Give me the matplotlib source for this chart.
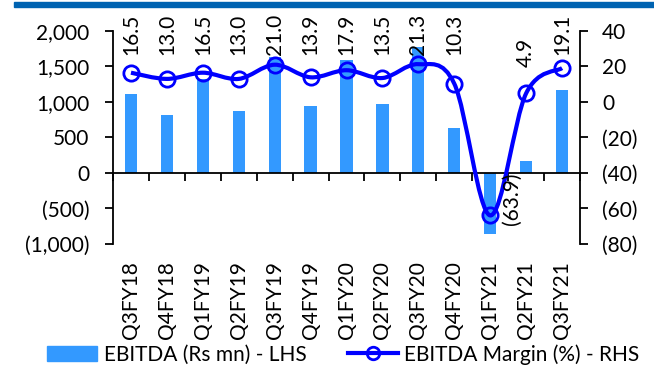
import matplotlib
matplotlib.use("Agg")
import matplotlib.pyplot as plt
import numpy as np
from matplotlib.path import Path
from matplotlib.patches import PathPatch, Patch, Rectangle
from matplotlib.lines import Line2D
from matplotlib.ticker import FuncFormatter

# ── data ──────────────────────────────────────────────────────────────────────
quarters = ["Q3FY18", "Q4FY18", "Q1FY19", "Q2FY19", "Q3FY19", "Q4FY19", "Q1FY20",
            "Q2FY20", "Q3FY20", "Q4FY20", "Q1FY21", "Q2FY21", "Q3FY21"]
ebitda = [1110, 815, 1325, 875, 1640, 945, 1590, 970, 1770, 635, -860, 170, 1170]
margin = [16.5, 13.0, 16.5, 13.0, 21.0, 13.9, 17.9, 13.5, 21.3, 10.3, -63.9, 4.9, 19.1]

# ── styling ───────────────────────────────────────────────────────────────────
BAR_COL  = "#3399FF"
LINE_COL = "#0000FF"
RULE_COL = "#0063B1"
FS = 15
plt.rcParams["font.family"] = ["Lato", "DejaVu Sans"]
plt.rcParams["font.size"] = FS


def paren(v, pos):
    s = f"{abs(v):,.0f}"
    return f"({s})" if v < 0 else s


def smooth_path(xs, ys):
    # Catmull-Rom style bezier, like a spreadsheet "smoothed line"
    pts = np.column_stack([xs, ys])
    verts = [pts[0]]
    codes = [Path.MOVETO]
    n = len(pts)
    for i in range(n - 1):
        p0 = pts[max(i - 1, 0)]
        p1 = pts[i]
        p2 = pts[i + 1]
        p3 = pts[min(i + 2, n - 1)]
        c1 = p1 + (p2 - p0) / 6
        c2 = p2 - (p3 - p1) / 6
        verts += [c1, c2, p2]
        codes += [Path.CURVE4] * 3
    return Path(verts, codes)


fig = plt.figure(figsize=(6.54, 3.76), dpi=100)
ax = fig.add_axes([0.1728, 0.3511, 0.7141, 0.5665])
ax2 = ax.twinx()

x = np.arange(len(quarters))
ax.bar(x, ebitda, width=0.34, color=BAR_COL, zorder=2)
ax.set_xlim(-0.5, len(quarters) - 0.5)
ax.set_ylim(-1000, 2000)
ax.set_yticks(np.arange(-1000, 2001, 500))
ax.yaxis.set_major_formatter(FuncFormatter(paren))

ax.spines["top"].set_visible(False)
ax.spines["right"].set_visible(False)
ax.spines["bottom"].set_position(("data", 0))
for sp in ["left", "bottom"]:
    ax.spines[sp].set_linewidth(1.3)
ax.tick_params(axis="y", direction="out", length=6, width=1.3, pad=11)
# category boundary ticks on the zero line, names below the plot
ax.set_xticks(np.arange(-0.5, len(quarters), 1.0))
ax.set_xticklabels([])
ax.tick_params(axis="x", direction="out", length=6, width=1.3)
for i, q in enumerate(quarters):
    ax.text(i, -0.08, q, rotation=90, ha="center", va="top",
            transform=ax.get_xaxis_transform(), fontsize=FS)

ax2.set_ylim(-80, 40)
ax2.set_yticks(np.arange(-80, 41, 20))
ax2.yaxis.set_major_formatter(FuncFormatter(paren))
for sp in ["top", "left", "bottom"]:
    ax2.spines[sp].set_visible(False)
ax2.spines["right"].set_linewidth(1.3)
ax2.tick_params(axis="y", direction="out", length=6, width=1.3, pad=10)

ax2.add_patch(PathPatch(smooth_path(x, margin), facecolor="none",
                        edgecolor=LINE_COL, linewidth=3, zorder=3))
ax2.plot(x, margin, linestyle="none", marker="o", markersize=11,
         markerfacecolor="none", markeredgecolor=LINE_COL, markeredgewidth=2,
         zorder=4)

# data labels
for i, m in enumerate(margin):
    txt = f"({abs(m):.1f})" if m < 0 else f"{m:.1f}"
    if m < 0:
        ax2.text(i + 0.6, -40, txt, rotation=90, ha="center", va="top", fontsize=FS)
    elif i == 11:
        ax2.text(i, 19.7, txt, rotation=90, ha="center", va="bottom", fontsize=FS)
    else:
        ax2.text(i, 26.5, txt, rotation=90, ha="center", va="bottom", fontsize=FS)

# top rule
fig.add_artist(Rectangle((14 / 654, 1 - 7 / 376), 1, 5 / 376, color=RULE_COL,
                         transform=fig.transFigure))

handles = [Patch(color=BAR_COL),
           Line2D([], [], color=LINE_COL, linewidth=3, marker="o", markersize=9,
                  markerfacecolor="none", markeredgewidth=2)]
fig.legend(handles, ["EBITDA (Rs mn) - LHS", "EBITDA Margin (%) - RHS"],
           loc="lower center", bbox_to_anchor=(0.525, -0.02), ncol=2, frameon=False,
           handlelength=2.4, handleheight=0.75, handletextpad=0.3, columnspacing=2.0,
           fontsize=FS)

fig.savefig("out.png", dpi=100)
